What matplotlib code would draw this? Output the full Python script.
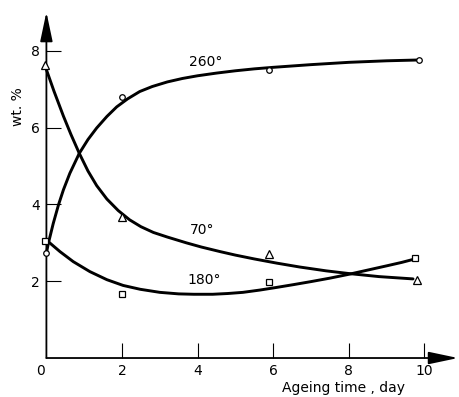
import matplotlib
matplotlib.use("Agg")
import matplotlib.pyplot as plt
from matplotlib.transforms import ScaledTranslation

# measured points (day, wt. %)
days_260 = [0.0, 2.0, 5.9, 9.85]
wt_260 = [2.73, 6.79, 7.50, 7.76]
days_70 = [-0.05, 2.0, 5.9, 9.8]
wt_70 = [7.62, 3.66, 2.71, 2.04]
days_180 = [-0.04, 2.0, 5.9, 9.75]
wt_180 = [3.05, 1.68, 1.98, 2.60]

# hand-drawn curves
curve_260_x = [0.0, 0.05, 0.18, 0.32, 0.45, 0.62, 0.87, 1.1, 1.33, 1.6, 1.86, 2.15,
               2.47, 2.8, 3.2, 3.6, 4.0, 4.5, 5.0, 5.5, 6.0, 7.0, 8.0, 9.0, 9.8]
curve_260_y = [2.73, 2.98, 3.50, 3.99, 4.38, 4.81, 5.33, 5.69, 5.99, 6.29, 6.54, 6.75,
               6.94, 7.07, 7.19, 7.28, 7.35, 7.42, 7.48, 7.53, 7.57, 7.64, 7.70, 7.74, 7.76]
curve_70_x = [-0.04, 0.2, 0.45, 0.65, 0.87, 1.1, 1.33, 1.6, 1.9, 2.2, 2.5, 2.83,
              3.2, 3.7, 4.1, 4.6, 5.0, 5.5, 6.1, 6.7, 7.4, 8.0, 8.8, 9.7]
curve_70_y = [7.62, 6.95, 6.30, 5.82, 5.33, 4.87, 4.49, 4.14, 3.84, 3.60, 3.42, 3.27,
              3.15, 3.00, 2.89, 2.77, 2.68, 2.58, 2.47, 2.37, 2.27, 2.20, 2.12, 2.06]
curve_180_x = [0.05, 0.36, 0.71, 1.15, 1.6, 2.03, 2.48, 3.0, 3.5, 3.9, 4.4, 4.8,
               5.2, 5.65, 6.1, 6.53, 7.0, 7.5, 8.0, 8.5, 9.0, 9.4, 9.75]
curve_180_y = [3.03, 2.77, 2.51, 2.25, 2.04, 1.89, 1.79, 1.71, 1.67, 1.66, 1.66, 1.68,
               1.71, 1.77, 1.84, 1.91, 1.99, 2.08, 2.18, 2.29, 2.40, 2.49, 2.58]

x_ticks = [0, 2, 4, 6, 8, 10]
y_ticks = [2, 4, 6, 8]

fig = plt.figure(figsize=(4.59, 3.97), dpi=100)
ax = fig.add_axes([0.1011, 0.0982, 0.8968, 0.8715])
ax.set_xlim(0, 10.89)
ax.set_ylim(0, 9.01)

for s in ax.spines.values():
    s.set_visible(False)

# axes drawn as arrows
arrow = dict(arrowstyle="-|>,head_length=1.8,head_width=0.38", color="black",
             lw=1.3, shrinkA=0, shrinkB=0)
ax.annotate("", xy=(1, 0), xytext=(0, 0), xycoords="axes fraction", arrowprops=arrow)
ax.annotate("", xy=(0, 1), xytext=(0, 0), xycoords="axes fraction", arrowprops=arrow)

lw = 2.1
ax.plot(curve_260_x, curve_260_y, color="black", lw=lw, clip_on=False, solid_capstyle="round")
ax.plot(curve_70_x, curve_70_y, color="black", lw=lw, clip_on=False, solid_capstyle="round")
ax.plot(curve_180_x, curve_180_y, color="black", lw=lw, clip_on=False, solid_capstyle="round")

ax.plot(days_260, wt_260, "o", ms=4, mfc="white", mec="black", mew=0.9, clip_on=False, zorder=5)
ax.plot(days_70, wt_70, "^", ms=6, mfc="white", mec="black", mew=0.9, clip_on=False, zorder=5)
ax.plot(days_180, wt_180, "s", ms=4.3, mfc="white", mec="black", mew=0.9, clip_on=False, zorder=5)

ax.text(4.21, 7.71, "260°", fontsize=10, ha="center", va="center")
ax.text(4.13, 3.33, "70°", fontsize=10, ha="center", va="center")
ax.text(4.17, 2.03, "180°", fontsize=10, ha="center", va="center")

ax.set_xticks(x_ticks)
ax.set_yticks(y_ticks)
ax.tick_params(direction="in", length=10.5, width=0.8, labelsize=10)
ax.tick_params(axis="x", pad=4.5)
ax.tick_params(axis="y", pad=4.5)
ax.xaxis.get_major_ticks()[0].tick1line.set_visible(False)
lbl0 = ax.get_xticklabels()[0]
lbl0.set_transform(lbl0.get_transform() + ScaledTranslation(-0.06, 0, fig.dpi_scale_trans))

ax.text(-0.75, 6.55, "wt. %", fontsize=10, rotation=90, ha="center", va="center", clip_on=False)
ax.text(7.86, -0.78, "Ageing time , day", fontsize=10, ha="center", va="center", clip_on=False)

fig.savefig("out.png", dpi=100, facecolor="white")
